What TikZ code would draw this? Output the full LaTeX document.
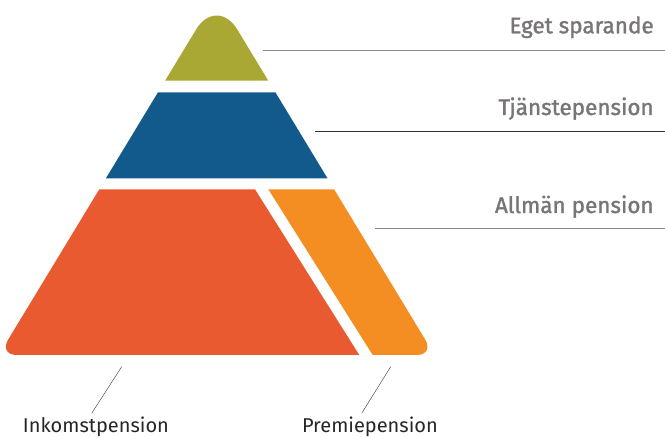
\documentclass[tikz,border=0pt]{standalone}
\usepackage{fontspec}
\setmainfont{Fira Sans}
\newfontfamily\rlabelfont{Fira Sans}[FakeBold=1.5]
\usetikzlibrary{arrows}

\definecolor{egetcol}{RGB}{169,168,52}
\definecolor{tjanstcol}{RGB}{19,90,140}
\definecolor{inkcol}{RGB}{233,90,48}
\definecolor{premcol}{RGB}{244,142,35}
\definecolor{labgray}{RGB}{122,117,117}
\definecolor{linegray}{RGB}{138,138,138}

\begin{document}
\begin{tikzpicture}[x=1pt,y=-1pt,semithick]
            \useasboundingbox (0,0) rectangle (665,438);
            \tikzset{rlabel/.style={anchor=base east,text=labgray,inner sep=0pt,font=\rlabelfont\fontsize{22.5}{26}\selectfont},
                     blabel/.style={anchor=base west,text=black!85,inner sep=0pt,font=\fontsize{20}{24}\selectfont}}
            % pyramid layers
            \fill[egetcol](165.1,80.7)[rounded corners=40] -- (216.7,-4.5)[sharp corners] -- (268.3,80.7) -- cycle;
            \fill[tjanstcol](158,92.3) -- (275.4,92.3) -- (327.5,178.3) -- (105.9,178.3) -- cycle;
            \fill[inkcol](99.3,189.3) -- (255,189.3) -- (359.3,355)[rounded corners=18] -- (-1.2,355)[sharp corners] -- cycle;
            \fill[premcol](372.7,355) -- (268.3,189.3) -- (334.1,189.3)[rounded corners=18] -- (434.6,355)[sharp corners] -- cycle;
            % labels
            \node[rlabel](eget)at(654, 33.3){Eget sparande};
            \node[rlabel](tjanst)at(654, 115){Tjänstepension};
            \node[rlabel](allman)at(654, 213){Allmän pension};
            \node[blabel](inkomst)at(22.7, 432.5){Inkomstpension};
            \node[blabel](premie)at(301.7, 432.5){Premiepension};
            % leader lines
            \coordinate(egetA)at(263, 50);
            \coordinate(egetB)at(665, 50);
            \coordinate(tjanstA)at(315, 131.7);
            \coordinate(tjanstB)at(665, 131.7);
            \coordinate(allmanA)at(375, 228.3);
            \coordinate(allmanB)at(665, 228.3);
            \coordinate(inkomstA)at(121.7, 366.7);
            \coordinate(inkomstB)at(91.7, 413.3);
            \coordinate(premieA)at(390.7, 366.7);
            \coordinate(premieB)at(361.7, 413.3);
            \draw[linegray](egetA) -- (egetB);
            \draw[black!80](tjanstA) -- (tjanstB);
            \draw[linegray](allmanA) -- (allmanB);
            \draw[thin,black!80](inkomstA) -- (inkomstB);
            \draw[thin,black!80](premieA) -- (premieB);
        \end{tikzpicture}
\end{document}
